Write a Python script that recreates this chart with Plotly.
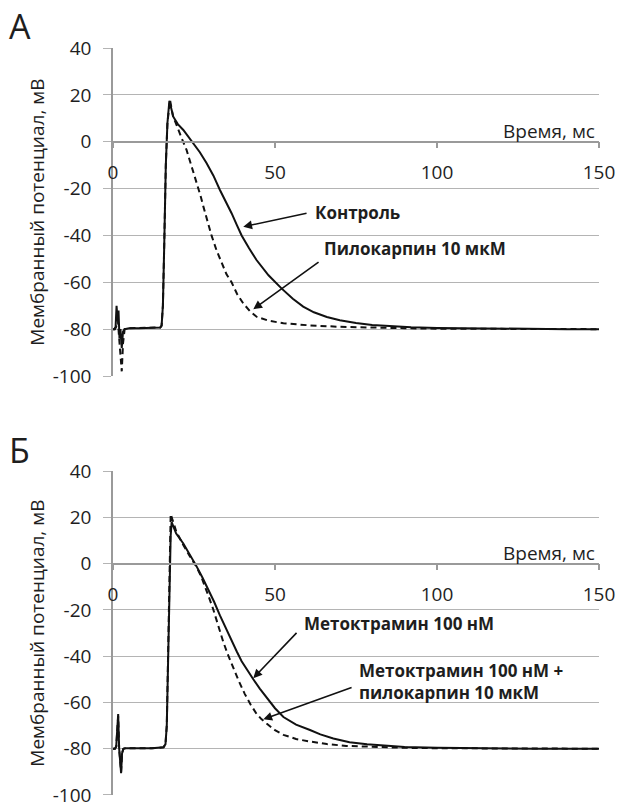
import plotly.graph_objects as go

# ---------------- data ----------------
# Panel А
t_ctrl = [0, 0.4, 0.8, 1.1, 1.4, 1.7, 2.0, 2.3, 2.7, 3.1, 3.6, 5, 8, 12, 14.6, 15.0, 15.4, 15.8, 16.3, 16.8, 17.4,
          18.6, 20.0, 21.7, 23.2, 24.8, 26.8, 28.9, 31.0, 33.0, 34.8, 36.6, 38.2, 39.7, 42.0, 44.3, 48.0, 52.0,
          55.5, 58.7, 62.0, 66.0, 70.0, 75.0, 80.0, 86.0, 92.0, 100, 110, 120, 130, 140, 150]
v_ctrl = [-80, -80, -79, -70, -76, -72, -84, -80, -88, -81, -80, -79.6, -79.6, -79.6, -79.3, -78.5, -70, -45, -10, 8, 17.5,
          10.7, 7.5, 5, 2.2, -0.7, -4.5, -9.2, -14.5, -20.6, -25.5, -30.5, -35.5, -40, -45.5, -50.5, -57, -62.6,
          -67, -70.4, -72.8, -74.8, -76.2, -77.4, -78.2, -78.8, -79.2, -79.5, -79.7, -79.8, -79.9, -80, -80]

t_pilo = [0, 0.6, 1.0, 1.4, 1.8, 2.2, 2.7, 3.1, 3.6, 5, 8, 12, 14.6, 15.0, 15.4, 15.8, 16.3, 16.8, 17.6,
          18.5, 19.7, 21.2, 22.7, 24.2, 25.8, 27.0, 27.9, 29.2, 30.4, 32.0, 33.5, 35.0, 36.6, 38.3, 40.2,
          42.2, 44.3, 48.0, 52.6, 56.5, 60.8, 70, 80, 90, 100, 110, 120, 130, 140, 150]
v_pilo = [-80, -80, -79, -74, -82, -88, -98, -86, -80, -79.6, -79.6, -79.6, -79.3, -78.5, -70, -45, -10, 8, 17.8,
          11, 6.4, 1.5, -3.5, -10, -17.7, -23, -27.7, -34, -40, -46.5, -51.9, -56.5, -60, -65, -69,
          -72.2, -74.7, -76.4, -77.5, -78.0, -78.4, -79.0, -79.4, -79.6, -79.8, -79.9, -80, -80, -80, -80]

# Panel Б
t_meto = [0, 0.6, 1.0, 1.3, 1.6, 1.9, 2.2, 2.5, 2.8, 3.2, 3.8, 5, 8, 12, 15.6, 16.2, 16.6, 17.0, 17.4, 17.8, 18.1,
          19.5, 21.7, 23.8, 25.8, 27.6, 29.4, 31.2, 33.0, 34.8, 36.6, 38.2, 39.7, 41.5, 43.3, 45.3, 47.4,
          50.0, 52.6, 56.5, 60.8, 64.0, 68.0, 73.0, 78.4, 84.0, 90.0, 100, 110, 120, 130, 140, 150]
v_meto = [-80, -80, -79, -72, -65, -80, -84, -90.6, -82, -80, -79.8, -79.8, -79.8, -79.8, -79.4, -78, -70, -40, -5, 12, 17.9,
          13, 8.7, 3.8, -1.2, -6, -11.1, -16.5, -22.4, -28, -33.7, -38, -42.2, -46.2, -50, -54, -57.8,
          -62.5, -66.3, -69.6, -71.9, -73.8, -75.6, -77.2, -78.1, -78.8, -79.3, -79.6, -79.8, -79.9, -80, -80, -80]

t_combo = [0, 0.6, 1.0, 1.3, 1.6, 1.9, 2.2, 2.5, 2.8, 3.2, 3.8, 5, 8, 12, 15.6, 16.2, 16.6, 17.0, 17.4, 17.8,
           19.5, 21.7, 23.8, 25.8, 27.2, 28.4, 29.6, 30.9, 32.4, 34.0, 35.5, 37.1, 38.9, 40.7, 42.5, 44.3,
           45.8, 47.4, 50.0, 52.6, 56.5, 60.8, 66.0, 72.0, 80.0, 90.0, 100, 115, 130, 150]
v_combo = [-80, -80, -79, -73, -66, -80, -84, -90, -82, -80, -79.8, -79.8, -79.8, -79.8, -79.4, -78, -70, -40, -5, 21.4,
           14, 8.0, 3.0, -1.5, -5.5, -9.7, -14.5, -19.6, -26.5, -33.7, -39.5, -45, -51, -56.4, -61, -64.9,
           -67.2, -69.1, -72.0, -74.0, -75.8, -76.9, -78.0, -78.8, -79.3, -79.6, -79.8, -79.9, -80, -80]

y_ticks = [-100, -80, -60, -40, -20, 0, 20, 40]
y_ticktext = ["-100", "-80", "-60", "-40", "-20", "0", "20", "40"]
x_ticks = [0, 50, 100, 150]
x_ticktext = ["0", "50", "100", "150"]
x_range = [0, 150]
y_range = [-100, 40]

y_title = "Мембранный потенциал, мВ"
x_title = "Время, мс"

# ---------------- figure ----------------
FONT = "Open Sans"
GRID = "#b4b4b4"
AXIS = "#9a9a9a"
TXT = "#1e1e1e"

domA = [0.5609, 1.0]
domB = [0.0, 0.4337]


def zero_pos(dom):
    return dom[0] + (0 - y_range[0]) / (y_range[1] - y_range[0]) * (dom[1] - dom[0])


fig = go.Figure()
solid = dict(color="#111111", width=2)
dashed = dict(color="#111111", width=2, dash="6px,4px")

fig.add_trace(go.Scatter(x=t_ctrl, y=v_ctrl, mode="lines", line=solid, xaxis="x", yaxis="y"))
fig.add_trace(go.Scatter(x=t_pilo, y=v_pilo, mode="lines", line=dashed, xaxis="x", yaxis="y"))
fig.add_trace(go.Scatter(x=t_meto, y=v_meto, mode="lines", line=solid, xaxis="x2", yaxis="y2"))
fig.add_trace(go.Scatter(x=t_combo, y=v_combo, mode="lines", line=dashed, xaxis="x2", yaxis="y2"))

xcommon = dict(range=x_range, tickvals=x_ticks, ticktext=x_ticktext, showgrid=False, zeroline=False,
               showline=True, linecolor=AXIS, linewidth=1.5, ticks="outside", ticklen=6, tickcolor=AXIS,
               tickwidth=1.5, tickfont=dict(family=FONT, size=19, color=TXT), ticklabelstandoff=8,
               anchor="free", automargin=False, fixedrange=True, ticklabeloverflow="allow")
ycommon = dict(range=y_range, tickvals=y_ticks, ticktext=y_ticktext, showgrid=True, gridcolor=GRID,
               gridwidth=1.2, zeroline=False, showline=True, linecolor=AXIS, linewidth=1.5, ticks="outside",
               ticklen=8, tickcolor=GRID, tickwidth=1.2, tickfont=dict(family=FONT, size=19, color=TXT),
               ticklabelstandoff=8, automargin=False, fixedrange=True, ticklabeloverflow="allow")

fig.update_layout(
    width=620, height=808,
    margin=dict(l=113, r=21, t=48, b=13, autoexpand=False),
    paper_bgcolor="white", plot_bgcolor="white",
    showlegend=False,
    xaxis=dict(xcommon, domain=[0, 1], position=zero_pos(domA)),
    yaxis=dict(ycommon, domain=domA, anchor="x"),
    xaxis2=dict(xcommon, domain=[0, 1], position=zero_pos(domB)),
    yaxis2=dict(ycommon, domain=domB, anchor="x2"),
)

ann = []
# panel letters
ann.append(dict(text="А", xref="paper", yref="paper", x=-0.192, y=1.0, xanchor="center", yanchor="middle",
                yshift=22, showarrow=False, font=dict(family=FONT, size=34, color=TXT)))
ann.append(dict(text="Б", xref="paper", yref="paper", x=-0.192, y=domB[1], xanchor="center", yanchor="middle",
                yshift=21, showarrow=False, font=dict(family=FONT, size=34, color=TXT)))
# y titles
for dom in (domA, domB):
    ann.append(dict(text=y_title, xref="paper", yref="paper", x=-0.157, y=(dom[0] + dom[1]) / 2,
                    xanchor="center", yanchor="middle", textangle=-90, showarrow=False,
                    font=dict(family=FONT, size=19, color=TXT)))
# x titles
for xr, yr in (("x", "y"), ("x2", "y2")):
    ann.append(dict(text=x_title, xref=xr, yref=yr, x=149.5, y=4.7, xanchor="right", yanchor="middle",
                    showarrow=False, font=dict(family=FONT, size=19, color=TXT)))

bold = dict(family=FONT, size=17, color=TXT)
arrow = dict(showarrow=True, arrowhead=2, arrowsize=1.1, arrowwidth=1.6, arrowcolor="#111111", text="")

# Panel А labels + arrows
ann.append(dict(arrow, xref="x", yref="y", axref="x", ayref="y", x=40.2, y=-36.3, ax=60.2, ay=-30.4))
ann.append(dict(text="<b>Контроль</b>", xref="x", yref="y", x=61.6, y=-30.4, xanchor="left",
                yanchor="middle", showarrow=False, font=bold))
ann.append(dict(arrow, xref="x", yref="y", axref="x", ayref="y", x=43.3, y=-71.5, ax=63.9, ay=-50.9))
ann.append(dict(text="<b>Пилокарпин 10 мкМ</b>", xref="x", yref="y", x=64.6, y=-45.4, xanchor="left",
                yanchor="middle", showarrow=False, font=bold))
# Panel Б labels + arrows
ann.append(dict(arrow, xref="x2", yref="y2", axref="x2", ayref="y2", x=43.3, y=-49.5, ax=57.1, ay=-29.3))
ann.append(dict(text="<b>Метоктрамин 100 нМ</b>", xref="x2", yref="y2", x=58.4, y=-25.9, xanchor="left",
                yanchor="middle", showarrow=False, font=bold))
ann.append(dict(arrow, xref="x2", yref="y2", axref="x2", ayref="y2", x=46.4, y=-67.3, ax=74.1, ay=-53.3))
ann.append(dict(text="<b>Метоктрамин 100 нМ +<br>пилокарпин 10 мкМ</b>", xref="x2", yref="y2", x=75.4,
                y=-51, xanchor="left", yanchor="middle", align="left", showarrow=False, font=bold))

fig.update_layout(annotations=ann)

fig.write_html("out.html", config={"displayModeBar": False},
               post_script="document.body.style.margin='0';document.body.style.overflow='hidden';")
